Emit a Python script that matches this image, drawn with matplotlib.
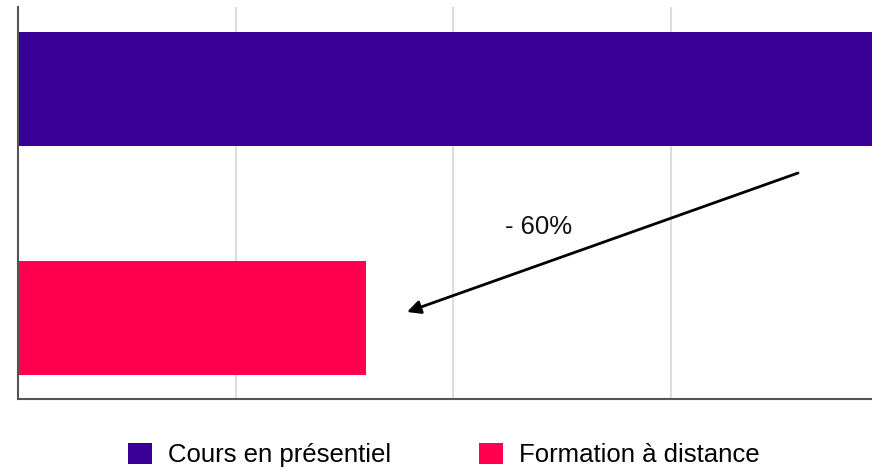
import matplotlib
matplotlib.use("Agg")
import matplotlib.pyplot as plt
from matplotlib.patches import Patch

plt.rcParams['font.family'] = ['Liberation Sans', 'DejaVu Sans']

categories = ["Cours en présentiel", "Formation à distance"]
values = [4.0, 1.6]
colors = ["#380094", "#FF0050"]
positions = [1, 0]
annotation_text = "- 60%"

fig = plt.figure(figsize=(8.72, 4.70), dpi=100)
ax = fig.add_axes([18/872, 1-399/470, 1-18/872, (399-7)/470])

ax.barh(positions, values, height=0.5, color=colors, zorder=2)

ax.set_xlim(0, (872-18)/217.7)
ax.set_ylim(-0.354, 1.358)
ax.set_xticks([1, 2, 3])
ax.set_yticks([])
ax.tick_params(axis='x', length=0, labelbottom=False)
ax.grid(axis='x', color='#dcdcdc', linewidth=1.5, zorder=0)
for s in ['top', 'right']:
    ax.spines[s].set_visible(False)
for s in ['left', 'bottom']:
    ax.spines[s].set_color('#555555')
    ax.spines[s].set_linewidth(1.5)

ax.annotate("", xy=(1.787, 0.026), xytext=(3.583, 0.633),
            arrowprops=dict(arrowstyle='-|>', color='black', lw=2,
                            mutation_scale=20, shrinkA=0, shrinkB=0),
            zorder=5)
ax.text(2.393, 0.397, annotation_text, fontsize=18.5, ha='center', va='center',
        color='#111111')

handles = [Patch(facecolor=c, edgecolor='none') for c in colors]
fig.legend(handles, categories, loc='center', bbox_to_anchor=(0.509, 1-455/470),
           ncol=2, frameon=False, fontsize=18.5, handlelength=0.93,
           handleheight=0.93, handletextpad=0.62, columnspacing=3.4,
           borderpad=0, borderaxespad=0)

fig.savefig("out.png", dpi=100)
